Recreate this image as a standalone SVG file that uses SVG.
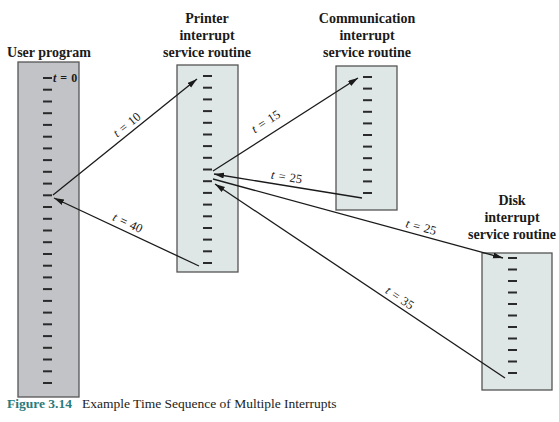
<svg xmlns="http://www.w3.org/2000/svg" width="559" height="422" viewBox="0 0 559 422">
<style>
.title{font-family:"Liberation Serif","Times New Roman",serif;font-weight:bold;font-size:14px;fill:#1a1a1a;text-anchor:middle}
.lbl{font-family:"Liberation Serif","Times New Roman",serif;font-size:12.5px;fill:#1a1a1a;text-anchor:middle;word-spacing:1px}
.box{stroke:#555;stroke-width:1.3}
.tick{stroke:#2a2a2a;stroke-width:2}
.conn{stroke:#1a1a1a;stroke-width:1.3;fill:none}
</style>
<defs>
<marker id="ah" markerUnits="userSpaceOnUse" markerWidth="11" markerHeight="7" refX="10" refY="3" orient="auto">
<path d="M0,0 L10,3 L0,6 z" fill="#1a1a1a"/>
</marker>
</defs>
<rect width="559" height="422" fill="#fff"/>

<g id="user">
<text class="title" x="49" y="57">User program</text>
<rect class="box" x="18" y="62" width="61" height="335" fill="#c1c3c6"/>
<g class="tick">
<line x1="43" y1="78" x2="52" y2="78"/><line x1="43" y1="89.7" x2="52" y2="89.7"/><line x1="43" y1="101.5" x2="52" y2="101.5"/><line x1="43" y1="113.2" x2="52" y2="113.2"/><line x1="43" y1="124.9" x2="52" y2="124.9"/><line x1="43" y1="136.7" x2="52" y2="136.7"/><line x1="43" y1="148.4" x2="52" y2="148.4"/><line x1="43" y1="160.1" x2="52" y2="160.1"/><line x1="43" y1="171.8" x2="52" y2="171.8"/><line x1="43" y1="183.6" x2="52" y2="183.6"/><line x1="43" y1="195.3" x2="52" y2="195.3"/><line x1="43" y1="207" x2="52" y2="207"/><line x1="43" y1="218.8" x2="52" y2="218.8"/><line x1="43" y1="230.5" x2="52" y2="230.5"/><line x1="43" y1="242.2" x2="52" y2="242.2"/><line x1="43" y1="254" x2="52" y2="254"/><line x1="43" y1="265.7" x2="52" y2="265.7"/><line x1="43" y1="277.4" x2="52" y2="277.4"/><line x1="43" y1="289.1" x2="52" y2="289.1"/><line x1="43" y1="300.9" x2="52" y2="300.9"/><line x1="43" y1="312.6" x2="52" y2="312.6"/><line x1="43" y1="324.3" x2="52" y2="324.3"/><line x1="43" y1="336.1" x2="52" y2="336.1"/><line x1="43" y1="347.8" x2="52" y2="347.8"/><line x1="43" y1="359.5" x2="52" y2="359.5"/><line x1="43" y1="371.3" x2="52" y2="371.3"/><line x1="43" y1="383" x2="52" y2="383"/>
</g>
<text x="53" y="82" style="font-family:'Liberation Serif',serif;font-size:12px;font-weight:bold;fill:#1a1a1a;word-spacing:1px"><tspan font-style="italic">t</tspan> = 0</text>
</g>

<g id="printer">
<text class="title" x="207" y="23">Printer</text>
<text class="title" x="207" y="40">interrupt</text>
<text class="title" x="207" y="57">service routine</text>
<rect class="box" x="177" y="65" width="61" height="207" fill="#dfe6e6"/>
<g class="tick">
<line x1="203" y1="76" x2="212" y2="76"/><line x1="203" y1="87.7" x2="212" y2="87.7"/><line x1="203" y1="99.4" x2="212" y2="99.4"/><line x1="203" y1="111.1" x2="212" y2="111.1"/><line x1="203" y1="122.8" x2="212" y2="122.8"/><line x1="203" y1="134.5" x2="212" y2="134.5"/><line x1="203" y1="146.1" x2="212" y2="146.1"/><line x1="203" y1="157.8" x2="212" y2="157.8"/><line x1="203" y1="169.5" x2="212" y2="169.5"/><line x1="203" y1="181.2" x2="212" y2="181.2"/><line x1="203" y1="192.9" x2="212" y2="192.9"/><line x1="203" y1="204.6" x2="212" y2="204.6"/><line x1="203" y1="216.3" x2="212" y2="216.3"/><line x1="203" y1="228" x2="212" y2="228"/><line x1="203" y1="239.6" x2="212" y2="239.6"/><line x1="203" y1="251.3" x2="212" y2="251.3"/><line x1="203" y1="263" x2="212" y2="263"/>
</g>
</g>

<g id="communication">
<text class="title" x="367" y="23">Communication</text>
<text class="title" x="367" y="40">interrupt</text>
<text class="title" x="367" y="57">service routine</text>
<rect class="box" x="336" y="66" width="61" height="144" fill="#dfe6e6"/>
<g class="tick">
<line x1="363" y1="77" x2="372" y2="77"/><line x1="363" y1="88.6" x2="372" y2="88.6"/><line x1="363" y1="100.2" x2="372" y2="100.2"/><line x1="363" y1="111.8" x2="372" y2="111.8"/><line x1="363" y1="123.4" x2="372" y2="123.4"/><line x1="363" y1="135" x2="372" y2="135"/><line x1="363" y1="146.6" x2="372" y2="146.6"/><line x1="363" y1="158.2" x2="372" y2="158.2"/><line x1="363" y1="169.8" x2="372" y2="169.8"/><line x1="363" y1="181.4" x2="372" y2="181.4"/><line x1="363" y1="193" x2="372" y2="193"/>
</g>
</g>

<g id="disk">
<text class="title" x="512" y="205">Disk</text>
<text class="title" x="512" y="222">interrupt</text>
<text class="title" x="512" y="239">service routine</text>
<rect class="box" x="482" y="253" width="70" height="137" fill="#dfe6e6"/>
<g class="tick">
<line x1="508" y1="258" x2="517" y2="258"/><line x1="508" y1="269.5" x2="517" y2="269.5"/><line x1="508" y1="281" x2="517" y2="281"/><line x1="508" y1="292.5" x2="517" y2="292.5"/><line x1="508" y1="304" x2="517" y2="304"/><line x1="508" y1="315.5" x2="517" y2="315.5"/><line x1="508" y1="327" x2="517" y2="327"/><line x1="508" y1="338.5" x2="517" y2="338.5"/><line x1="508" y1="350" x2="517" y2="350"/><line x1="508" y1="361.5" x2="517" y2="361.5"/><line x1="508" y1="373" x2="517" y2="373"/>
</g>
</g>

<g id="connectors">
<line class="conn" x1="53" y1="195" x2="197" y2="79" marker-end="url(#ah)"/>
<line class="conn" x1="213" y1="171" x2="358" y2="78" marker-end="url(#ah)"/>
<line class="conn" x1="362" y1="198" x2="214" y2="174" marker-end="url(#ah)"/>
<line class="conn" x1="213" y1="179" x2="503" y2="258" marker-end="url(#ah)"/>
<line class="conn" x1="505" y1="378" x2="215" y2="184" marker-end="url(#ah)"/>
<line class="conn" x1="199" y1="266" x2="54" y2="198" marker-end="url(#ah)"/>
<text class="lbl" transform="translate(129.5 128) rotate(-38.9)"><tspan font-style="italic">t</tspan> = 10</text>
<text class="lbl" transform="translate(268 125) rotate(-32.7)"><tspan font-style="italic">t</tspan> = 15</text>
<text class="lbl" transform="translate(286 181) rotate(9.2)"><tspan font-style="italic">t</tspan> = 25</text>
<text class="lbl" transform="translate(420 231) rotate(15.2)"><tspan font-style="italic">t</tspan> = 25</text>
<text class="lbl" transform="translate(397.5 301.3) rotate(33.8)"><tspan font-style="italic">t</tspan> = 35</text>
<text class="lbl" transform="translate(126 226.6) rotate(25.3)"><tspan font-style="italic">t</tspan> = 40</text>
</g>

<g id="caption">
<text x="7" y="408" style="font-family:'Liberation Serif',serif;font-size:13.5px;font-weight:bold;fill:#2a7b7b">Figure 3.14</text>
<text x="82" y="408" style="font-family:'Liberation Serif',serif;font-size:13.5px;fill:#222">Example Time Sequence of Multiple Interrupts</text>
</g>
</svg>
